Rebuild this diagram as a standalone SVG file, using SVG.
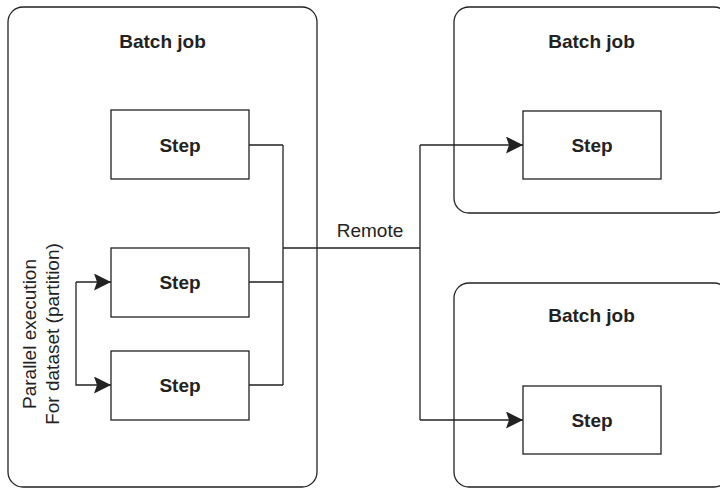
<svg xmlns="http://www.w3.org/2000/svg" width="720" height="488" viewBox="0 0 720 488">
<style>
.job{fill:#fff;stroke:#222;stroke-width:1.3}
.step{fill:#fff;stroke:#222;stroke-width:1.3}
.b{font-family:"Liberation Sans",Arial,sans-serif;font-weight:bold;font-size:19px;fill:#222;text-anchor:middle}
.r{font-family:"Liberation Sans",Arial,sans-serif;font-size:19px;fill:#222;text-anchor:middle}
.c{fill:none;stroke:#222;stroke-width:1.3}
</style>
<defs>
<marker id="ah" markerUnits="userSpaceOnUse" markerWidth="18" markerHeight="18" refX="17" refY="8.5" orient="auto">
<path d="M0,0 L17,8.5 L0,17 L3,8.5 Z" fill="#222"/>
</marker>
</defs>
<rect width="720" height="488" fill="#fff"/>
<g id="job1">
<rect class="job" x="8" y="7" width="309" height="480" rx="15"/>
<text class="b" x="162.5" y="48">Batch job</text>
</g>
<g id="job2">
<rect class="job" x="454" y="7" width="275" height="206" rx="15"/>
<text class="b" x="591.5" y="48">Batch job</text>
</g>
<g id="job3">
<rect class="job" x="454" y="283" width="275" height="204" rx="15"/>
<text class="b" x="591.5" y="322">Batch job</text>
</g>
<g id="step1">
<rect class="step" x="111" y="110" width="138" height="69"/>
<text class="b" x="180" y="152">Step</text>
</g>
<g id="step2">
<rect class="step" x="111" y="248" width="138" height="69"/>
<text class="b" x="180" y="289">Step</text>
</g>
<g id="step3">
<rect class="step" x="111" y="351" width="138" height="69"/>
<text class="b" x="180" y="392">Step</text>
</g>
<g id="step4">
<rect class="step" x="523" y="111" width="138" height="68"/>
<text class="b" x="592" y="152">Step</text>
</g>
<g id="step5">
<rect class="step" x="523" y="386" width="138" height="68"/>
<text class="b" x="592" y="427">Step</text>
</g>
<g id="partition-label">
<text class="r" transform="translate(36,334) rotate(-90)">Parallel execution</text>
<text class="r" transform="translate(59,334) rotate(-90)">For dataset (partition)</text>
</g>
<g id="connectors">
<path class="c" d="M249,145 H283 M249,282 H283 M249,385 H283 M283,145 V385 M283,248 H420 M420,145 V420"/>
<path class="c" d="M420,145 H523" marker-end="url(#ah)"/>
<path class="c" d="M420,420 H523" marker-end="url(#ah)"/>
<path class="c" d="M76,282 V385 H111" marker-end="url(#ah)"/>
<path class="c" d="M76,282 H111" marker-end="url(#ah)"/>
<text class="r" x="370" y="237">Remote</text>
</g>
</svg>
